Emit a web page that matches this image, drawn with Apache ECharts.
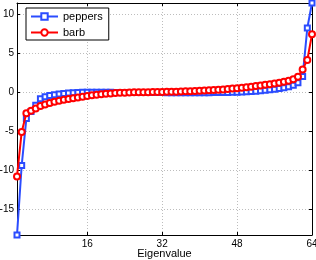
<!DOCTYPE html>
<html>
<head>
<meta charset="utf-8">
<script src="https://cdn.jsdelivr.net/npm/echarts@6/dist/echarts.min.js"></script>
<style>html,body{margin:0;padding:0;background:#fff}#c{width:316px;height:260px}</style>
</head>
<body>
<div id="c"></div>
<script>
const xTicks = [16, 32, 48, 64];
const yTicks = [-15, -10, -5, 0, 5, 10];
const peppers = [-18.3, -9.4, -3.4, -2.5, -1.7, -0.85, -0.6, -0.45, -0.34, -0.25, -0.18, -0.12, -0.08, -0.05, -0.03, -0.02,
  -0.02, -0.03, -0.03, -0.04, -0.04, -0.05, -0.05, -0.05, -0.06, -0.06, -0.06, -0.06, -0.07, -0.07, -0.07, -0.07,
  -0.08, -0.08, -0.08, -0.08, -0.08, -0.08, -0.08, -0.08, -0.08, -0.08, -0.07, -0.07, -0.06, -0.05, -0.04, -0.02,
  0.0, 0.03, 0.07, 0.11, 0.16, 0.22, 0.29, 0.37, 0.46, 0.56, 0.68, 0.88, 1.2, 2.0, 8.2, 11.4];
const barb = [-10.8, -5.1, -2.7, -2.4, -2.1, -1.8, -1.6, -1.4, -1.25, -1.1, -1.0, -0.9, -0.8, -0.7, -0.6, -0.5,
  -0.42, -0.35, -0.28, -0.22, -0.17, -0.13, -0.1, -0.08, -0.06, -0.04, -0.03, -0.02, -0.01, 0.0, 0.01, 0.02,
  0.03, 0.04, 0.05, 0.07, 0.09, 0.11, 0.13, 0.16, 0.19, 0.22, 0.26, 0.3, 0.34, 0.39, 0.44, 0.5,
  0.56, 0.62, 0.69, 0.76, 0.84, 0.92, 1.0, 1.1, 1.2, 1.32, 1.46, 1.65, 1.95, 2.9, 4.1, 7.4];
const idx = peppers.map((_, i) => i + 1);

const chart = echarts.init(document.getElementById('c'), null, {renderer: 'canvas'});
const font = 'Liberation Sans, Arial, sans-serif';
const gridLine = {show: true, lineStyle: {color: '#bdbdbd', type: [1, 2], width: 1}};
chart.setOption({
  animation: false,
  textStyle: {fontFamily: font},
  grid: {left: 17, right: 4, top: 3, bottom: 25, containLabel: false, outerBoundsMode: 'none'},
  legend: {
    orient: 'vertical', left: 26, top: 8,
    backgroundColor: '#fff', borderColor: '#000', borderWidth: 1,
    padding: [3, 6, 2, 4], itemWidth: 27, itemHeight: 8, itemGap: 5,
    textStyle: {fontSize: 11, color: '#000', fontFamily: font},
    data: ['peppers', 'barb']
  },
  xAxis: [{
    type: 'value', min: 1, max: 64, position: 'bottom',
    name: 'Eigenvalue', nameLocation: 'middle', nameGap: 13, nameMoveOverlap: false,
    nameTextStyle: {fontSize: 11, color: '#000', fontFamily: font, verticalAlign: 'top'},
    axisLine: {show: true, onZero: false, lineStyle: {color: '#000'}},
    axisTick: {show: true, inside: true, length: 3, customValues: xTicks, lineStyle: {color: '#000'}},
    axisLabel: {customValues: xTicks, fontSize: 10, color: '#000', margin: 4, fontFamily: font},
    splitLine: Object.assign({customValues: xTicks}, gridLine)
  }, {
    type: 'value', min: 1, max: 64, position: 'top',
    axisLine: {show: true, onZero: false, lineStyle: {color: '#000'}},
    axisTick: {show: true, inside: true, length: 3, customValues: xTicks, lineStyle: {color: '#000'}},
    axisLabel: {show: false}, splitLine: {show: false}
  }],
  yAxis: [{
    type: 'value', min: -18.3, max: 11.4, position: 'left',
    axisLine: {show: true, onZero: false, lineStyle: {color: '#000'}},
    axisTick: {show: true, inside: true, length: 3, customValues: yTicks, lineStyle: {color: '#000'}},
    axisLabel: {customValues: yTicks, fontSize: 10, color: '#000', margin: 3, fontFamily: font},
    splitLine: Object.assign({customValues: yTicks}, gridLine)
  }, {
    type: 'value', min: -18.3, max: 11.4, position: 'right',
    axisLine: {show: true, onZero: false, lineStyle: {color: '#000'}},
    axisTick: {show: true, inside: true, length: 3, customValues: yTicks, lineStyle: {color: '#000'}},
    axisLabel: {show: false}, splitLine: {show: false}
  }],
  series: [{
    name: 'peppers', type: 'line', xAxisIndex: 0, yAxisIndex: 0,
    data: idx.map((x, i) => [x, peppers[i]]),
    symbol: 'emptyRect', symbolSize: 5,
    lineStyle: {color: '#2b4cff', width: 2},
    itemStyle: {color: '#2b4cff', borderColor: '#2b4cff', borderWidth: 1.5},
    z: 2
  }, {
    name: 'barb', type: 'line', xAxisIndex: 0, yAxisIndex: 0,
    data: idx.map((x, i) => [x, barb[i]]),
    symbol: 'emptyCircle', symbolSize: 6,
    lineStyle: {color: '#ff0000', width: 2},
    itemStyle: {color: '#ff0000', borderColor: '#ff0000', borderWidth: 1.5},
    z: 3
  }]
});
</script>
</body>
</html>
